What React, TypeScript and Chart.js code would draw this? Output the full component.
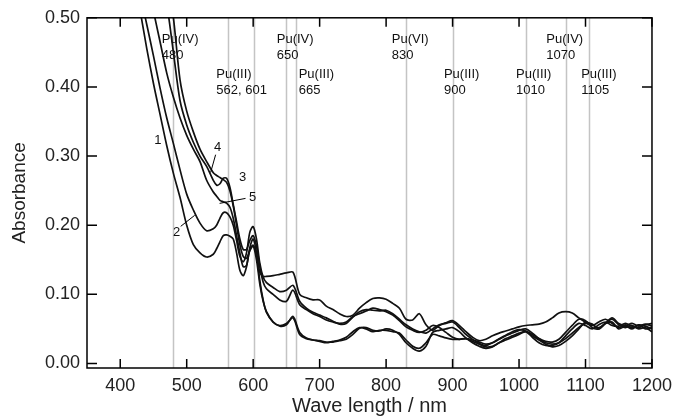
import React, { useEffect, useRef } from "react";
import { Chart, registerables } from "chart.js";

Chart.register(...registerables);

// ---------- data ----------
const wavelengths = [
  420, 430, 440, 450, 460, 470, 480, 490, 500, 510, 520, 530, 540,
  545, 550, 555, 560, 565, 570, 575, 580, 585, 590, 595, 600, 605, 610, 615, 620,
  630, 640, 650, 660, 670, 680, 690, 700, 710, 720, 730, 740, 750, 760, 770, 780, 790,
  800, 810, 820, 830, 840, 850, 860, 870, 880, 890, 900, 910, 920, 930, 940, 950, 960,
  970, 980, 990, 1000, 1010, 1020, 1030, 1040, 1050, 1060, 1070, 1080, 1090, 1100,
  1110, 1120, 1130, 1140, 1150, 1160, 1170, 1180, 1190, 1200,
];

const series1 = [
  0.56, 0.51, 0.455, 0.405, 0.36, 0.315, 0.275, 0.24, 0.2, 0.172, 0.16, 0.154, 0.158,
  0.166, 0.176, 0.185, 0.186, 0.184, 0.18, 0.16, 0.135, 0.127, 0.14, 0.165, 0.171, 0.158, 0.132, 0.126, 0.126,
  0.127, 0.129, 0.131, 0.132, 0.1, 0.095, 0.092, 0.092, 0.083, 0.078, 0.072, 0.068, 0.07, 0.08, 0.088, 0.094, 0.095,
  0.093, 0.087, 0.08, 0.064, 0.063, 0.072, 0.056, 0.048, 0.055, 0.059, 0.062, 0.055, 0.046, 0.038, 0.033, 0.035, 0.04,
  0.044, 0.047, 0.05, 0.053, 0.055, 0.056, 0.057, 0.06, 0.066, 0.073, 0.075, 0.073, 0.066, 0.06,
  0.057, 0.05, 0.058, 0.066, 0.058, 0.055, 0.058, 0.054, 0.057, 0.054,
];

const series2 = [
  0.59, 0.535, 0.49, 0.445, 0.398, 0.355, 0.318, 0.28, 0.245, 0.222, 0.203, 0.192, 0.195,
  0.2, 0.21, 0.218, 0.218, 0.212, 0.2, 0.178, 0.155, 0.147, 0.16, 0.19, 0.198, 0.18, 0.145, 0.125, 0.117,
  0.11, 0.104, 0.106, 0.113, 0.09, 0.08, 0.074, 0.07, 0.066, 0.061, 0.057, 0.058, 0.067, 0.075, 0.078, 0.077, 0.076,
  0.077, 0.072, 0.064, 0.056, 0.05, 0.046, 0.044, 0.05, 0.056, 0.058, 0.06, 0.052, 0.042, 0.035, 0.029, 0.026, 0.03,
  0.036, 0.041, 0.046, 0.049, 0.047, 0.042, 0.036, 0.032, 0.031, 0.035, 0.045, 0.055, 0.064, 0.062,
  0.052, 0.05, 0.058, 0.064, 0.056, 0.052, 0.055, 0.05, 0.052, 0.046,
];

const series3 = [
  0.8, 0.74, 0.68, 0.62, 0.565, 0.52, 0.45, 0.38, 0.345, 0.32, 0.3, 0.285, 0.265,
  0.258, 0.26, 0.268, 0.268, 0.255, 0.23, 0.205, 0.18, 0.165, 0.165, 0.178, 0.185, 0.17, 0.14, 0.118, 0.108,
  0.1, 0.092, 0.09, 0.106, 0.085, 0.078, 0.072, 0.068, 0.063, 0.06, 0.058, 0.06, 0.068, 0.072, 0.076, 0.08, 0.078,
  0.075, 0.07, 0.062, 0.053, 0.048, 0.045, 0.048, 0.055, 0.052, 0.045, 0.038, 0.035, 0.036, 0.034, 0.031, 0.028, 0.03,
  0.035, 0.04, 0.044, 0.048, 0.05, 0.044, 0.036, 0.03, 0.028, 0.03, 0.036, 0.044, 0.052, 0.058,
  0.055, 0.06, 0.064, 0.058, 0.052, 0.056, 0.052, 0.056, 0.05, 0.052,
];

const series4 = [
  0.9, 0.84, 0.77, 0.7, 0.63, 0.56, 0.5, 0.41, 0.365, 0.335, 0.31, 0.292, 0.276,
  0.272, 0.269, 0.266, 0.262, 0.25, 0.228, 0.2, 0.172, 0.155, 0.152, 0.163, 0.17, 0.15, 0.115, 0.09, 0.075,
  0.06, 0.054, 0.056, 0.068, 0.045, 0.037, 0.034, 0.033, 0.031, 0.031, 0.033, 0.035, 0.042, 0.051, 0.052, 0.048, 0.047,
  0.05, 0.048, 0.042, 0.03, 0.022, 0.018, 0.025, 0.045, 0.048, 0.05, 0.052, 0.046, 0.037, 0.03, 0.025, 0.022, 0.024,
  0.03, 0.036, 0.04, 0.044, 0.046, 0.04, 0.034, 0.028, 0.024, 0.026, 0.032, 0.04, 0.05, 0.06,
  0.056, 0.052, 0.058, 0.06, 0.05, 0.054, 0.05, 0.056, 0.054, 0.05,
];

const series5 = [
  0.66, 0.61, 0.56, 0.51, 0.465, 0.42, 0.385, 0.355, 0.33, 0.31, 0.292, 0.265, 0.248,
  0.242, 0.236, 0.234, 0.232, 0.226, 0.21, 0.185, 0.16, 0.14, 0.142, 0.168, 0.18, 0.16, 0.12, 0.092, 0.074,
  0.06, 0.055, 0.058, 0.066, 0.042, 0.036, 0.034, 0.032, 0.03, 0.032, 0.034, 0.038, 0.046, 0.052, 0.05, 0.046, 0.048,
  0.048, 0.046, 0.044, 0.034, 0.025, 0.022, 0.03, 0.042, 0.04, 0.037, 0.035, 0.035, 0.036, 0.032, 0.028, 0.024, 0.025,
  0.03, 0.034, 0.038, 0.042, 0.046, 0.038, 0.03, 0.026, 0.026, 0.03, 0.04, 0.05, 0.058, 0.055,
  0.05, 0.056, 0.06, 0.055, 0.054, 0.058, 0.054, 0.052, 0.056, 0.058,
];

const allSeries = [series1, series2, series3, series4, series5];
const seriesNames = ["1", "2", "3", "4", "5"];

const xTicks = [400, 500, 600, 700, 800, 900, 1000, 1100, 1200];
const yTicks = [0, 0.1, 0.2, 0.3, 0.4, 0.5];

// reference wavelengths of absorption bands (grey lines)
const bandLines = [480, 562, 601, 650, 665, 830, 900, 1010, 1070, 1105];

// band labels: text lines, wavelength of text left edge, row
const bandLabelLines = [
  ["Pu(IV)", "480"],
  ["Pu(III)", "562, 601"],
  ["Pu(IV)", "650"],
  ["Pu(III)", "665"],
  ["Pu(VI)", "830"],
  ["Pu(III)", "900"],
  ["Pu(III)", "1010"],
  ["Pu(IV)", "1070"],
  ["Pu(III)", "1105"],
];
const bandLabelX = [462.5, 544.5, 635.5, 668.5, 808.5, 887, 995.5, 1041, 1093.5];
const bandLabelRow = [0, 1, 0, 1, 0, 1, 1, 0, 1];

// curve number labels: label position and leader line (wavelength, absorbance)
const curveLabelX = [456.5, 485, 584, 546.5, 599];
const curveLabelY = [0.3225, 0.19, 0.269, 0.3124, 0.24];
const leaderFrom = [null, [491, 0.1984], null, [543.5, 0.302], [588.5, 0.2388]];
const leaderTo = [null, [512, 0.2143], null, [536, 0.2763], [549.5, 0.2316]];

const FONT = "'Liberation Sans', Arial, Helvetica, sans-serif";

const overlayPlugin = {
  id: "overlay",
  beforeDatasetsDraw(chart: any) {
    const { ctx, chartArea } = chart;
    const xs = chart.scales.x;
    ctx.save();
    ctx.strokeStyle = "#c4c4c4";
    ctx.lineWidth = 1.5;
    bandLines.forEach((w) => {
      const px = Math.round(xs.getPixelForValue(w)) + 0.5;
      ctx.beginPath();
      ctx.moveTo(px, chartArea.top);
      ctx.lineTo(px, chartArea.bottom);
      ctx.stroke();
    });
    ctx.restore();
  },
  afterDraw(chart: any) {
    const { ctx, chartArea } = chart;
    const xs = chart.scales.x;
    const ys = chart.scales.y;
    const { left, right, top, bottom } = chartArea;
    ctx.save();
    // frame
    ctx.strokeStyle = "#000";
    ctx.lineWidth = 1.5;
    ctx.strokeRect(left, top, right - left, bottom - top);
    // inside ticks
    xTicks.forEach((t) => {
      const px = xs.getPixelForValue(t);
      ctx.beginPath();
      ctx.moveTo(px, bottom);
      ctx.lineTo(px, bottom - 9);
      ctx.moveTo(px, top);
      ctx.lineTo(px, top + 9);
      ctx.stroke();
    });
    yTicks.forEach((t) => {
      const py = ys.getPixelForValue(t);
      ctx.beginPath();
      ctx.moveTo(left, py);
      ctx.lineTo(left + 10, py);
      ctx.moveTo(right, py);
      ctx.lineTo(right - 10, py);
      ctx.stroke();
    });
    // band labels
    ctx.fillStyle = "#111";
    ctx.font = `13px ${FONT}`;
    ctx.textAlign = "left";
    ctx.textBaseline = "middle";
    const rowY = [
      [39, 55],
      [74, 90],
    ];
    bandLabelLines.forEach((lines, i) => {
      const px = xs.getPixelForValue(bandLabelX[i]);
      lines.forEach((t, j) => {
        ctx.fillText(t, px, rowY[bandLabelRow[i]][j]);
      });
    });
    // curve numbers
    ctx.font = `13px ${FONT}`;
    ctx.textAlign = "center";
    seriesNames.forEach((n, i) => {
      ctx.fillText(n, xs.getPixelForValue(curveLabelX[i]), ys.getPixelForValue(curveLabelY[i]));
      const f = leaderFrom[i];
      const t = leaderTo[i];
      if (f && t) {
        ctx.lineWidth = 1;
        ctx.beginPath();
        ctx.moveTo(xs.getPixelForValue(f[0]), ys.getPixelForValue(f[1]));
        ctx.lineTo(xs.getPixelForValue(t[0]), ys.getPixelForValue(t[1]));
        ctx.stroke();
      }
    });
    ctx.restore();
  },
};

export default function App() {
  const ref = useRef<HTMLCanvasElement | null>(null);
  useEffect(() => {
    if (!ref.current) return;
    const datasets = allSeries.map((s, i) => ({
      label: seriesNames[i],
      data: wavelengths.map((w, k) => ({ x: w, y: s[k] })),
      borderColor: "#111",
      borderWidth: 1.7,
      pointRadius: 0,
      tension: 0.3,
      fill: false,
    }));
    const chart = new Chart(ref.current, {
      type: "line",
      data: { datasets },
      options: {
        animation: false,
        responsive: false,
        layout: { padding: { left: 0, top: 17, right: 26, bottom: 0 } },
        plugins: { legend: { display: false }, tooltip: { enabled: false } },
        scales: {
          x: {
            type: "linear",
            min: 350,
            max: 1200,
            grid: { display: false, drawTicks: false },
            border: { display: false },
            afterFit: (s: any) => {
              s.height = 52;
            },
            afterBuildTicks: (s: any) => {
              s.ticks = xTicks.map((v) => ({ value: v }));
            },
            ticks: {
              color: "#222",
              padding: 7,
              font: { family: FONT, size: 18 },
              callback: (v: any) => String(v),
            },
            title: {
              display: true,
              text: "Wave length / nm",
              color: "#222",
              font: { family: FONT, size: 20 },
              padding: { top: 0, bottom: 2 },
            },
          },
          y: {
            type: "linear",
            min: -0.0065,
            max: 0.5,
            grid: { display: false, drawTicks: false },
            border: { display: false },
            afterFit: (s: any) => {
              s.width = 87;
            },
            afterBuildTicks: (s: any) => {
              s.ticks = yTicks.map((v) => ({ value: v }));
            },
            ticks: {
              color: "#222",
              padding: 7,
              font: { family: FONT, size: 18 },
              callback: (v: any) => Number(v).toFixed(2),
            },
            title: {
              display: true,
              text: "Absorbance",
              color: "#222",
              font: { family: FONT, size: 19 },
              padding: { top: 8, bottom: 0 },
            },
          },
        },
      },
      plugins: [overlayPlugin],
    });
    return () => chart.destroy();
  }, []);
  return (
    <div style={{ position: "fixed", left: 0, top: 0, width: 679, height: 420, background: "#fff" }}>
      <canvas ref={ref} width={679} height={420} style={{ width: 679, height: 420 }} />
    </div>
  );
}
